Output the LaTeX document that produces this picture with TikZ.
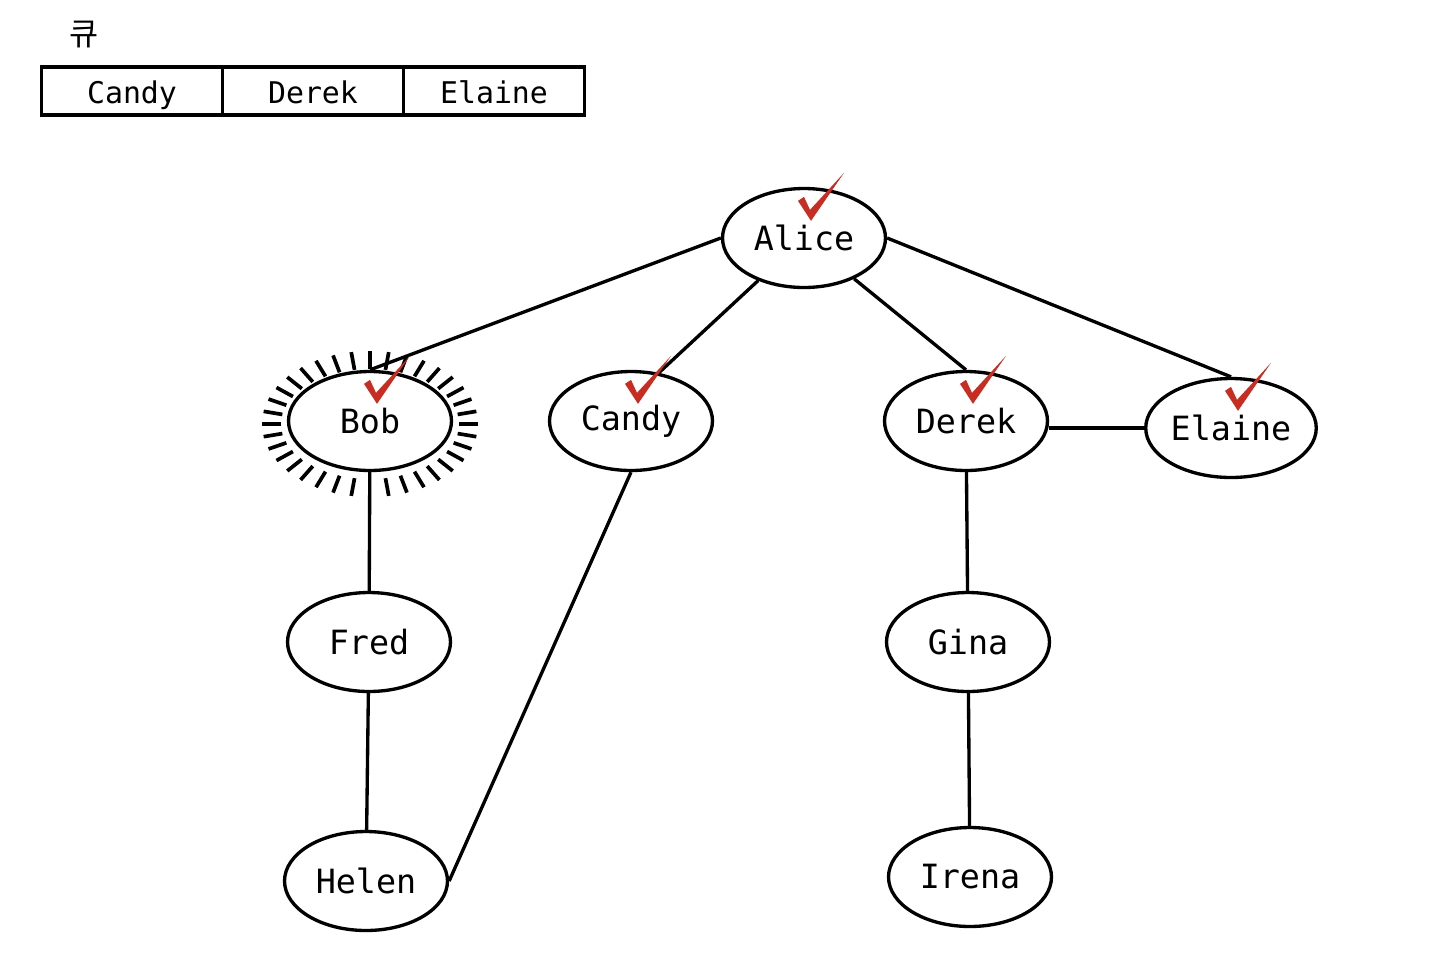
\documentclass[tikz,border=0pt]{standalone}
\usepackage{fontspec}
\newfontfamily\monofont{DejaVu Sans Mono}
\newfontfamily\kofont{Noto Sans CJK KR}
\usetikzlibrary{shapes.geometric}
\definecolor{tickred}{rgb}{0.78,0.18,0.13}

\begin{document}
\begin{tikzpicture}[x=0.02cm,y=-0.02cm,line width=1.9pt,
    person/.style={ellipse,draw,fill=white,inner sep=0pt,minimum width=3.26cm,minimum height=1.98cm,font=\monofont\fontsize{19}{19}\selectfont},
    slot/.style={rectangle,draw,inner sep=0pt,minimum width=3.62cm,minimum height=0.96cm,text height=15pt,text depth=1pt,font=\monofont\fontsize{17}{17}\selectfont}]

\useasboundingbox (0,0) rectangle (1440,958);

% queue
\node (qlabel) at (84,35) {\kofont\fontsize{18}{18}\selectfont 큐};
\node[slot] (qcandy) at (132,91) {Candy};
\node[slot] (qderek) at (313,91) {Derek};
\node[slot] (qelaine) at (494,91) {Elaine};

% graph
\node[person] (alice) at (804,238) {Alice};
\node[person] (bob) at (370,421) {Bob};
\node[person] (candy) at (631,421) {Candy};
\node[person] (derek) at (966,421) {Derek};
\node[person] (elaine) at (1231,428) {Elaine};
\node[person] (fred) at (369,642) {Fred};
\node[person] (gina) at (968,642) {Gina};
\node[person] (helen) at (366,881) {Helen};
\node[person] (irena) at (970,877) {Irena};

\draw (alice.west) -- (bob.north);
\draw (alice) -- (candy.60);
\draw (alice) -- (derek.north);
\draw (alice.east) -- (elaine.north);
\draw (bob) -- (fred);
\draw (fred) -- (helen);
\draw (candy.south) -- (helen.east);
\draw (elaine.west -| derek.east) -- (elaine.west);
\draw (derek) -- (gina);
\draw (gina) -- (irena);

% rays round bob
\foreach \a in {0,10,...,80,100,110,...,350}
    \draw[line width=2.1pt,shift={(370,424)}] ({89*cos(\a)},{55*sin(\a)}) -- ({108*cos(\a)},{73*sin(\a)});

% ticks
\foreach \n in {alice,bob,candy,derek,elaine}
    \fill[tickred,shift={(\n.north)}] (-6,14) -- (0,10) -- (6,23) -- (40,-14) -- (7,34) -- cycle;

\end{tikzpicture}
\end{document}
